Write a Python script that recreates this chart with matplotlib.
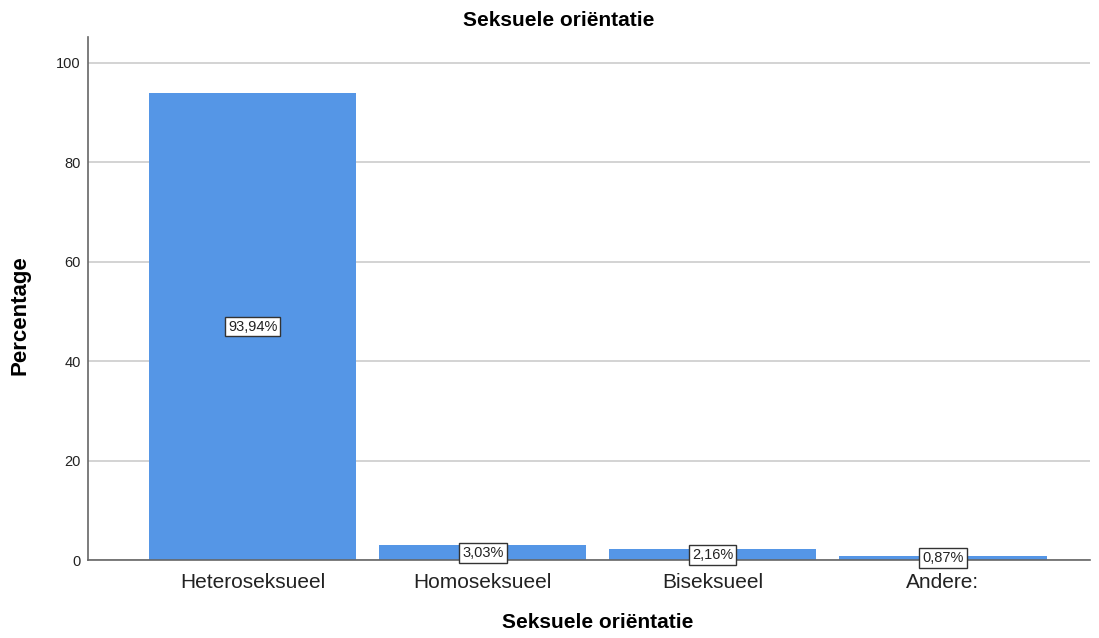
import matplotlib
matplotlib.use("Agg")
import matplotlib.pyplot as plt

# ── Data ──────────────────────────────────────────────────────────────────────
categories = ["Heteroseksueel", "Homoseksueel", "Biseksueel", "Andere:"]
percentages = [93.94, 3.03, 2.16, 0.87]
labels = ["93,94%", "3,03%", "2,16%", "0,87%"]
yticks = [0, 20, 40, 60, 80, 100]

BLUE = "#5596e6"
FONT = "Liberation Sans"

plt.rcParams["font.family"] = FONT

fig = plt.figure(figsize=(10.99, 6.38), dpi=100)
ax = fig.add_axes([0.080, 0.122, 0.912, 0.820])

x = range(len(categories))
ax.bar(x, percentages, width=0.9, color=BLUE, zorder=2)

for xi, val, lab in zip(x, percentages, labels):
    ax.text(xi, val / 2, lab, ha="center", va="center", fontsize=10.5,
            color="#222222", zorder=3,
            bbox=dict(boxstyle="square,pad=0.2", fc="white", ec="#333333", lw=1))

ax.set_xlim(-0.717, 3.64)
ax.set_ylim(0, 105.2)
ax.set_yticks(yticks)
ax.set_xticks(list(x))
ax.set_xticklabels(categories, fontsize=15, color="#222222")
ax.tick_params(axis="y", length=0, labelsize=10.5, colors="#222222", pad=5)
ax.tick_params(axis="x", length=0, pad=9)
ax.yaxis.grid(True, color="#cccccc", lw=1.2, zorder=0)
ax.set_axisbelow(True)

for side in ("top", "right"):
    ax.spines[side].set_visible(False)
ax.spines["left"].set_color("#666666")
ax.spines["bottom"].set_color("#666666")
ax.spines["left"].set_linewidth(1.2)
ax.spines["bottom"].set_linewidth(1.2)

# title and axis titles placed to match the reference layout
fig.text(0.508, 1 - 20 / 638, "Seksuele oriëntatie", fontsize=15,
         fontweight="bold", ha="center", va="center")
ax.set_xlabel("Seksuele oriëntatie", fontsize=15, fontweight="bold", va="center")
ax.xaxis.set_label_coords(0.509, -0.119)
ax.set_ylabel("Percentage", fontsize=16, fontweight="bold", va="center")
ax.yaxis.set_label_coords(-0.068, 0.468)

fig.savefig("out.png", dpi=100, facecolor="white")
